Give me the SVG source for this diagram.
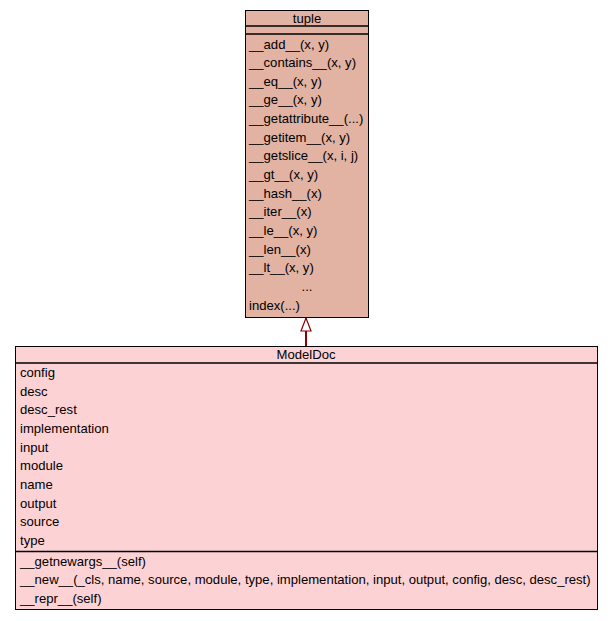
<svg xmlns="http://www.w3.org/2000/svg" width="613" height="621" viewBox="0 0 613 621">
  <style>
    text { font-family: "Liberation Sans", Arial, sans-serif; font-size: 13.1px; fill: #000; }
    .title { text-anchor: middle; }
    .box { stroke: #000; stroke-width: 1; }
    .sep { stroke: #000; stroke-width: 1.5; }
    .base { fill: #e2b2a2; }
    .cls { fill: #fdd2d4; }
    .inherit { stroke: #8b0000; stroke-width: 2; fill: none; }
  </style>
  <defs>
    <!-- hollow triangle for generalisation; tip points along the path direction -->
    <marker id="hollowTri" viewBox="0 0 14 12" refX="13.5" refY="6" markerWidth="14" markerHeight="12" markerUnits="userSpaceOnUse" orient="auto">
      <polygon points="13.5,6 0.5,1 0.5,11" fill="#fff" stroke="#8b0000" stroke-width="1.2"/>
    </marker>
  </defs>
  <rect width="613" height="621" fill="#fff"/>

  <!-- base class: tuple -->
  <g id="tuple">
    <rect class="box base" x="245.5" y="10.5" width="123" height="307"/>
    <line class="sep" x1="245.5" y1="26" x2="368.5" y2="26"/>
    <line class="sep" x1="245.5" y1="34" x2="368.5" y2="34"/>
    <text class="title" x="307" y="22.5">tuple</text>
    <text x="249" y="48.5">__add__(x, y)</text>
    <text x="249" y="67">__contains__(x, y)</text>
    <text x="249" y="85.5">__eq__(x, y)</text>
    <text x="249" y="104">__ge__(x, y)</text>
    <text x="249" y="123">__getattribute__(...)</text>
    <text x="249" y="141.5">__getitem__(x, y)</text>
    <text x="249" y="160">__getslice__(x, i, j)</text>
    <text x="249" y="179">__gt__(x, y)</text>
    <text x="249" y="197.5">__hash__(x)</text>
    <text x="249" y="216">__iter__(x)</text>
    <text x="249" y="235">__le__(x, y)</text>
    <text x="249" y="253.5">__len__(x)</text>
    <text x="249" y="272">__lt__(x, y)</text>
    <text class="title" x="307" y="291">...</text>
    <text x="249" y="309.5">index(...)</text>
  </g>

  <!-- derived class: ModelDoc -->
  <g id="ModelDoc">
    <rect class="box cls" x="15.5" y="346.5" width="582" height="263"/>
    <line class="sep" x1="15.5" y1="363" x2="597.5" y2="363"/>
    <line class="sep" x1="15.5" y1="551.5" x2="597.5" y2="551.5"/>
    <text class="title" x="306" y="359">ModelDoc</text>
    <text x="20" y="376.5">config</text>
    <text x="20" y="395.5">desc</text>
    <text x="20" y="414">desc_rest</text>
    <text x="20" y="432.5">implementation</text>
    <text x="20" y="451.5">input</text>
    <text x="20" y="470">module</text>
    <text x="20" y="488.5">name</text>
    <text x="20" y="507.5">output</text>
    <text x="20" y="526">source</text>
    <text x="20" y="544.5">type</text>
    <text x="20" y="565.5">__getnewargs__(self)</text>
    <text x="20" y="584">__new__(_cls, name, source, module, type, implementation, input, output, config, desc, desc_rest)</text>
    <text x="20" y="602.5">__repr__(self)</text>
  </g>

  <!-- inheritance connector -->
  <g id="connectors">
    <line class="inherit" x1="306" y1="346" x2="306" y2="318" marker-end="url(#hollowTri)"/>
  </g>
</svg>
